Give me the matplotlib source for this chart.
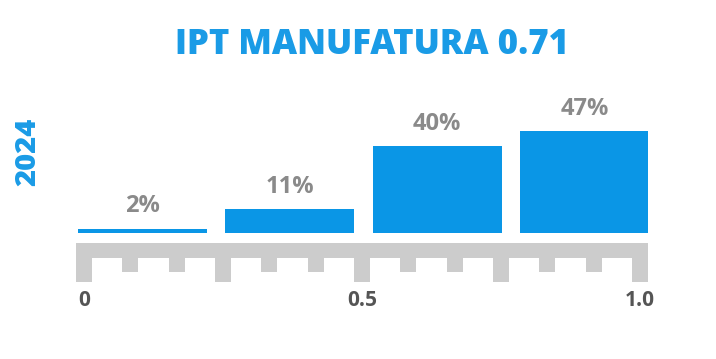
import matplotlib.pyplot as plt
from matplotlib.patches import Rectangle
import numpy as np

# data
title = "IPT MANUFATURA 0.71"
year_label = "2024"
shares = [2, 11, 40, 47]          # % of plants in each quartile of the index
share_labels = ["2%", "11%", "40%", "47%"]
tick_values = [0, 0.5, 1.0]
tick_labels = ["0", "0.5", "1.0"]

BLUE = "#0a96e6"
TITLE_BLUE = "#1a9be6"
GREY_TXT = "#8a8a8a"
DARK_TXT = "#555555"
RULER = "#cccccc"

plt.rcParams['font.family'] = ['Open Sans', 'DejaVu Sans']

W, H = 716, 359
fig = plt.figure(figsize=(W / 100, H / 100), dpi=100)

# common x range (data units of the index), ruler spans slightly beyond 0..1
x0, x1 = -0.0144, 1.0144
ax_left = (84 + x0 * 556) / W
ax_w = (x1 - x0) * 556 / W

# bars
ax = fig.add_axes([ax_left, 1 - 233 / H, ax_w, 130 / H])
ax.set_xlim(x0, x1)
ax.set_ylim(0, 60)
ax.axis('off')
n = len(shares)
b_start, b_end, gap = -0.0108, 1.0162, 0.0324
bw = (b_end - b_start - (n - 1) * gap) / n
for i, (v, lab) in enumerate(zip(shares, share_labels)):
    left = b_start + i * (bw + gap)
    ax.bar(left, v, width=bw, align='edge', color=BLUE, linewidth=0)
    ax.text(left + bw / 2, v + 10.3, lab, ha='center', va='center',
            fontsize=17, fontweight='bold', color=GREY_TXT)

# ruler
rax = fig.add_axes([ax_left, 1 - 282 / H, ax_w, 39 / H])
rax.set_xlim(x0, x1)
rax.set_ylim(0, 39)
rax.add_patch(Rectangle((x0, 24), x1 - x0, 15, color=RULER, lw=0))
tw = 16 / 556
for k, t in enumerate(np.linspace(0, 1, 13)):
    y_start = 0 if k % 3 == 0 else 10
    rax.add_patch(Rectangle((t - tw / 2, y_start), tw, 24.5 - y_start, color=RULER, lw=0))
for s in rax.spines.values():
    s.set_visible(False)
rax.set_yticks([])
rax.set_xticks(tick_values)
rax.set_xticklabels(tick_labels, fontsize=15, fontweight='bold', color=DARK_TXT)
rax.tick_params(axis='x', length=0, pad=6)
rax.patch.set_alpha(0)

fig.text(372 / W, 1 - 45 / H, title, ha='center', va='center',
         fontsize=25, fontweight='heavy', color=TITLE_BLUE)
fig.text(28 / W, 1 - 152 / H, year_label, ha='center', va='center', rotation=90,
         fontsize=21, fontweight='heavy', color=TITLE_BLUE)

fig.savefig('out.png', dpi=100)
